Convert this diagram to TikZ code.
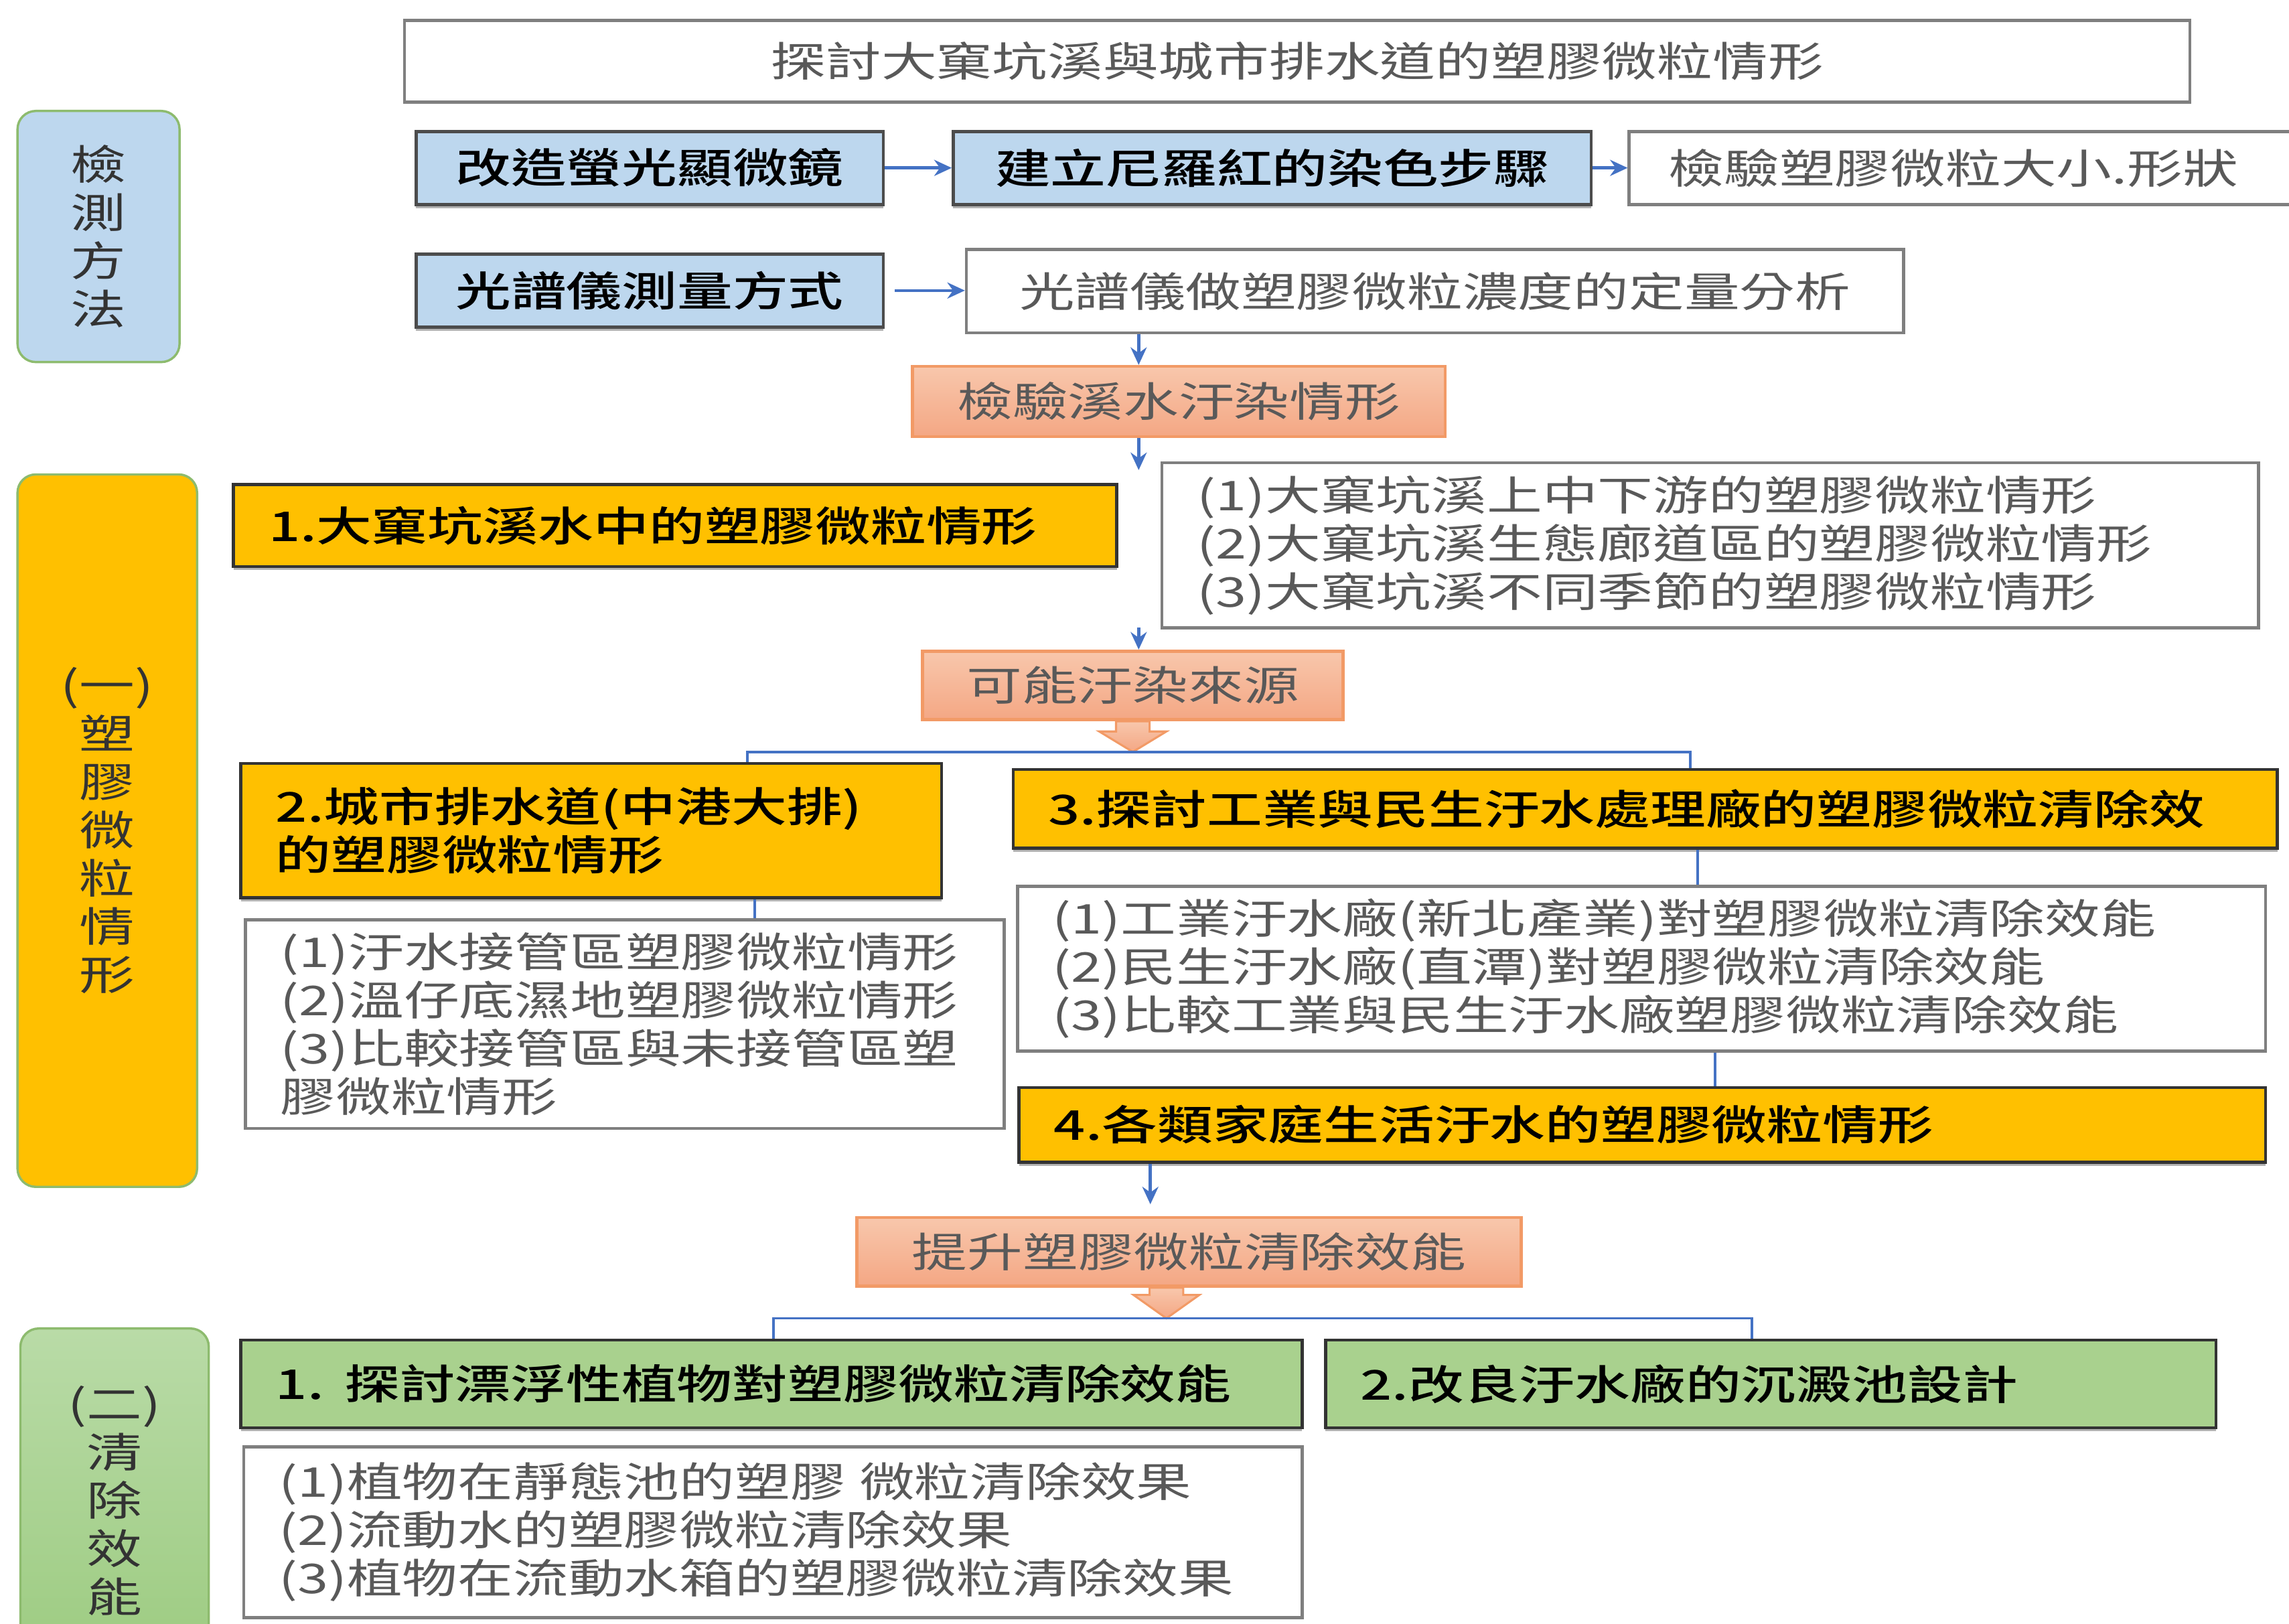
\documentclass[tikz,border=0pt]{standalone}
\usepackage{fontspec}
\setmainfont{Noto Sans CJK TC}[FakeStretch=1.35, BoldFont={Noto Sans CJK TC Medium}]
\usetikzlibrary{arrows.meta,shadows}

\definecolor{boxblue}{HTML}{BDD7EE}
\definecolor{boxyellow}{HTML}{FFC000}
\definecolor{boxgreen}{HTML}{A9D18E}
\definecolor{salmontop}{HTML}{F8C7AC}
\definecolor{salmonbot}{HTML}{F4A784}
\definecolor{salmonline}{HTML}{F29A66}
\definecolor{linkblue}{HTML}{4472C4}
\definecolor{framegray}{HTML}{7F7F7F}
\definecolor{textgray}{HTML}{595959}
\definecolor{tabline}{HTML}{8DBB6E}
\definecolor{tabgreentop}{HTML}{B9DBA7}
\definecolor{tabgreenbot}{HTML}{9CCB80}

\newcommand{\boxfont}{\fontsize{16pt}{18.8pt}\selectfont}

\tikzset{
  plain/.style={draw=framegray, line width=1.2pt, fill=white, text=textgray,
    font=\boxfont, inner xsep=0.48cm, inner ysep=0pt, align=left},
  method/.style={draw=black!70, line width=1.2pt, fill=boxblue, font=\boxfont\bfseries,
    inner sep=0pt, minimum height=1cm, align=center,
    drop shadow={shadow xshift=0pt, shadow yshift=-0.05cm, fill=black!30, opacity=1}},
  topic/.style={draw=black!80, line width=1.2pt, fill=boxyellow, font=\boxfont\bfseries,
    inner xsep=0.48cm, inner ysep=0pt, align=left,
    drop shadow={shadow xshift=0pt, shadow yshift=-0.05cm, fill=black!30, opacity=1}},
  remedy/.style={topic, fill=boxgreen},
  goal/.style={draw=salmonline, line width=1.2pt, top color=salmontop, bottom color=salmonbot,
    text=textgray, font=\boxfont, inner sep=0pt, align=center},
  tab/.style={draw=tabline, line width=0.9pt, rounded corners=0.25cm, text=black!80,
    font=\boxfont, inner sep=0pt, align=center},
  flow/.style={->, linkblue, line width=1.2pt},
  link/.style={linkblue, line width=1pt},
  bigarrow/.style={draw=salmonline, line width=0.8pt, top color=salmontop, bottom color=salmonbot}
}

\begin{document}
\begin{tikzpicture}[>={Stealth[length=2.4mm,width=2.2mm]}]
  \useasboundingbox (0,0) rectangle (31.36,-22.24);
  \coordinate (trunk) at (15.6,0);

  % Titel
  \node[plain, align=center, minimum width=24.46cm, minimum height=1.12cm] (title) at (17.77,-0.84)
    {探討大窠坑溪與城市排水道的塑膠微粒情形};

  % Seitenleisten
  \node[tab, fill=boxblue, minimum width=2.22cm, minimum height=3.44cm] (tabdetect) at (1.35,-3.24)
    {檢\\測\\方\\法};
  \node[tab, fill=boxyellow, minimum width=2.46cm, minimum height=9.76cm] (tabsurvey) at (1.47,-11.38)
    {(一)\\塑\\膠\\微\\粒\\情\\形};
  \node[tab, top color=tabgreentop, bottom color=tabgreenbot, minimum width=2.58cm, minimum height=4.72cm]
    (tabremove) at (1.57,-20.56) {(二)\\清\\除\\效\\能};

  % Nachweismethoden
  \node[method, minimum width=6.4cm] (microscope) at (8.9,-2.3) {改造螢光顯微鏡};
  \node[method, minimum width=8.74cm] (stain) at (17.43,-2.3) {建立尼羅紅的染色步驟};
  \node[plain, text width=8.4cm, inner xsep=0.54cm, minimum height=1cm] (sizecheck) at (27.06,-2.3)
    {檢驗塑膠微粒大小.形狀};
  \node[method, minimum width=6.4cm] (spectro) at (8.9,-3.98) {光譜儀測量方式};
  \node[plain, align=center, minimum width=12.84cm, minimum height=1.14cm] (quant) at (19.66,-3.99)
    {光譜儀做塑膠微粒濃度的定量分析};

  \draw[flow] (microscope) -- (stain);
  \draw[flow] (stain) -- (sizecheck);
  \draw[flow, shorten <=0.14cm] (spectro.east) -- (spectro.east -| quant.west);

  % Bach
  \node[goal, minimum width=7.3cm, minimum height=0.96cm] (creek) at (16.15,-5.5) {檢驗溪水汙染情形};
  \draw[flow] (quant.south -| trunk) -- (creek.north -| trunk);
  \coordinate (creekout) at (15.6,-6.44);
  \draw[flow] (creek.south -| trunk) -- (creekout);

  \node[topic, text width=11.14cm, minimum height=1.12cm] (creekwater) at (9.25,-7.2)
    {1.大窠坑溪水中的塑膠微粒情形};
  \node[plain, text width=14.06cm, minimum height=2.26cm] (creeklist) at (23.43,-7.47)
    {(1)大窠坑溪上中下游的塑膠微粒情形\\(2)大窠坑溪生態廊道區的塑膠微粒情形\\(3)大窠坑溪不同季節的塑膠微粒情形};

  % Quellen
  \node[goal, minimum width=5.76cm, minimum height=0.94cm] (source) at (15.52,-9.39) {可能汙染來源};
  \coordinate (sourcein) at (15.6,-8.6);
  \draw[flow] (sourcein) -- (source.north -| trunk);
  \filldraw[bigarrow, shift={(source.south)}] (-0.23,0) -- (-0.23,-0.14) -- (-0.46,-0.14)
    -- (0,-0.42) coordinate (forkA) -- (0.46,-0.14) -- (0.23,-0.14) -- (0.23,0) -- cycle;

  \node[topic, text width=8.64cm, minimum height=1.84cm] (sewer) at (8.1,-11.38)
    {2.城市排水道(中港大排)\\的塑膠微粒情形};
  \node[topic, text width=16.36cm, minimum height=1.08cm] (plant) at (22.54,-11.08)
    {3.探討工業與民生汙水處理廠的塑膠微粒清除效};
  \draw[link] (forkA) -| ([xshift=2.14cm]sewer.north);
  \draw[link] (forkA) -| ([xshift=0.62cm]plant.north);

  \node[plain, text width=9.44cm, minimum height=2.86cm] (sewerlist) at (8.56,-14.03)
    {(1)汙水接管區塑膠微粒情形\\(2)溫仔底濕地塑膠微粒情形\\(3)比較接管區與未接管區塑\\膠微粒情形};
  \draw[link] ([xshift=2.24cm]sewer.south) -- ([xshift=2.24cm]sewer.south |- sewerlist.north);

  \node[plain, text width=16.14cm, minimum height=2.26cm] (plantlist) at (22.49,-13.27)
    {(1)工業汙水廠(新北產業)對塑膠微粒清除效能\\(2)民生汙水廠(直潭)對塑膠微粒清除效能\\(3)比較工業與民生汙水廠塑膠微粒清除效能};
  \draw[link] ([xshift=0.72cm]plant.south) -- ([xshift=0.72cm]plant.south |- plantlist.north);

  \node[topic, text width=16.12cm, minimum height=1.02cm] (household) at (22.5,-15.41)
    {4.各類家庭生活汙水的塑膠微粒情形};
  \draw[link] ([xshift=1.01cm]plantlist.south) -- ([xshift=1.01cm]plantlist.south |- household.north);

  % Entfernung
  \node[goal, minimum width=9.1cm, minimum height=0.94cm] (boost) at (16.29,-17.15) {提升塑膠微粒清除效能};
  \draw[flow, shorten >=0.16cm] ([xshift=-6.74cm]household.south) -- ([xshift=-6.74cm]household.south |- boost.north);
  \filldraw[bigarrow, shift={([xshift=-0.31cm]boost.south)}] (-0.23,0) -- (-0.23,-0.1) -- (-0.45,-0.1)
    -- (0,-0.42) coordinate (forkB) -- (0.45,-0.1) -- (0.23,-0.1) -- (0.23,0) -- cycle;

  \node[remedy, text width=13.58cm, minimum height=1.2cm] (plants) at (10.57,-18.96)
    {1. 探討漂浮性植物對塑膠微粒清除效能};
  \node[remedy, text width=11.24cm, minimum height=1.2cm] (tank) at (24.26,-18.96)
    {2.改良汙水廠的沉澱池設計};
  \draw[link] (forkB) -| ([xshift=0.03cm]plants.north);
  \draw[link] (forkB) -| ([xshift=-0.26cm]tank.north);

  \node[plain, text width=13.54cm, minimum height=2.34cm] (plantslist) at (10.59,-20.99)
    {(1)植物在靜態池的塑膠 微粒清除效果\\(2)流動水的塑膠微粒清除效果\\(3)植物在流動水箱的塑膠微粒清除效果};
\end{tikzpicture}
\end{document}
